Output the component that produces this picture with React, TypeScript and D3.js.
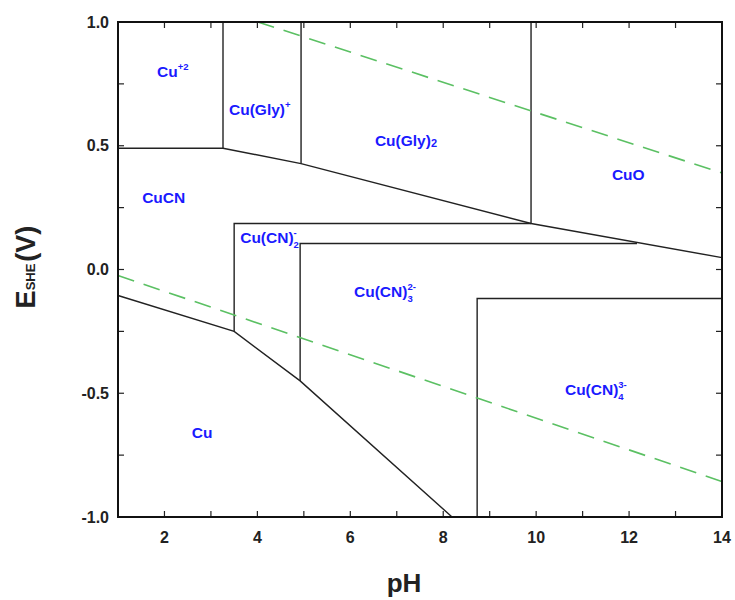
import React from 'react';
import * as d3 from 'd3';

const width = 735;
const height = 600;
const margin = { top: 22, right: 13, bottom: 83, left: 118 };

// stability field boundaries, [pH, E] pairs
const upperBoundary = [[1, 0.49], [3.26, 0.49], [4.94, 0.428], [9.89, 0.186], [14, 0.048]];
const cuLowerBoundary = [[1, -0.105], [3.5, -0.25], [4.92, -0.45], [8.19, -1.0]];
const verticals = [
  [[3.26, 0.49], [3.26, 1.0]],
  [[4.94, 0.428], [4.94, 1.0]],
  [[9.89, 0.186], [9.89, 1.0]],
  [[3.5, -0.25], [3.5, 0.186], [9.89, 0.186]],
  [[4.92, -0.45], [4.92, 0.105], [12.17, 0.105]],
  [[8.73, -1.0], [8.73, -0.117], [14, -0.117]]
];
const waterUpper = [[4.01, 1.0], [14, 0.39]];
const waterLower = [[1, -0.024], [14, -0.857]];

const xTicks = [2, 4, 6, 8, 10, 12, 14];
const xMinor = d3.range(2, 14, 1);
const yTicks = [-1.0, -0.5, 0.0, 0.5, 1.0];
const yMinor = d3.range(-0.75, 1.0, 0.25);

const species = [
  { base: 'Cu', sup: '+2', sub: '', pH: 1.84, E: 0.778 },
  { base: 'Cu(Gly)', sup: '+', sub: '', pH: 3.39, E: 0.624 },
  { base: 'Cu(Gly)', sup: '', sub: '2', pH: 6.53, E: 0.499 },
  { base: 'CuO', sup: '', sub: '', pH: 11.63, E: 0.362 },
  { base: 'CuCN', sup: '', sub: '', pH: 1.52, E: 0.269 },
  { base: 'Cu(CN)', sup: '-', sub: '2', pH: 3.63, E: 0.108 },
  { base: 'Cu(CN)', sup: '2-', sub: '3', pH: 6.08, E: -0.111 },
  { base: 'Cu(CN)', sup: '3-', sub: '4', pH: 10.62, E: -0.507 },
  { base: 'Cu', sup: '', sub: '', pH: 2.59, E: -0.681 }
];

const fmt = (v: number) => (v < 0 ? '-' : '') + Math.abs(v).toFixed(1);

export default function App() {
  const x = d3.scaleLinear().domain([1, 14]).range([margin.left, width - margin.right]);
  const y = d3.scaleLinear().domain([-1, 1]).range([height - margin.bottom, margin.top]);
  const line = d3.line<number[]>().x(d => x(d[0])).y(d => y(d[1]));
  const x0 = x(1), x1 = x(14), y0 = y(-1), y1 = y(1);
  const tick = 6;
  const font = 'Arial, "Liberation Sans", Helvetica, sans-serif';
  const scriptSize = 9.5;
  // rough width of a superscript so the stacked subscript starts under it
  const supWidth = (s: string) => s.split('').reduce((w, c) => w + (c === '-' ? 0.333 : 0.556), 0) * scriptSize;

  return (
    <svg width={width} height={height} style={{ position: 'absolute', left: 0, top: 0 }} fontFamily={font}>
      <rect width={width} height={height} fill="#fff" />

      {/* phase boundaries */}
      <g fill="none" stroke="#222" strokeWidth={1.4}>
        <path d={line(upperBoundary)!} />
        <path d={line(cuLowerBoundary)!} />
        {verticals.map((v, i) => <path key={i} d={line(v)!} />)}
      </g>

      {/* water stability lines */}
      <g fill="none" stroke="#5bc063" strokeWidth={1.6} strokeDasharray="17 10">
        <path d={line(waterUpper)!} />
        <path d={line(waterLower)!} />
      </g>

      {/* ticks */}
      <g stroke="#222" strokeWidth={1.2}>
        {xMinor.map(t => (
          <g key={t}>
            <line x1={x(t)} x2={x(t)} y1={y0} y2={y0 - tick} />
            <line x1={x(t)} x2={x(t)} y1={y1} y2={y1 + tick} />
          </g>
        ))}
        {yMinor.map(t => (
          <g key={t}>
            <line x1={x0} x2={x0 + tick} y1={y(t)} y2={y(t)} />
            <line x1={x1} x2={x1 - tick} y1={y(t)} y2={y(t)} />
          </g>
        ))}
      </g>

      <rect x={x0} y={y1} width={x1 - x0} height={y0 - y1} fill="none" stroke="#111" strokeWidth={2} />

      {/* tick labels */}
      {xTicks.map(t => (
        <text key={t} x={x(t)} y={y0 + 26} textAnchor="middle" fontSize={16} fontWeight="bold" fill="#222">{t}</text>
      ))}
      {yTicks.map(t => (
        <text key={t} x={x0 - 9} y={y(t)} dy="0.35em" textAnchor="end" fontSize={16} fontWeight="bold" fill="#222">
          {fmt(t)}
        </text>
      ))}

      {/* axis titles */}
      <text x={404} y={592} textAnchor="middle" fontSize={26} fontWeight="bold" fill="#222">pH</text>
      <text transform={`translate(35,267) rotate(-90)`} textAnchor="middle" fontSize={27} fontWeight="bold" fill="#222">
        E<tspan fontSize={13}>SHE</tspan><tspan dx={2}>(V)</tspan>
      </text>

      {/* species labels */}
      {species.map((s, i) => (
        <text key={i} x={x(s.pH)} y={y(s.E)} fontSize={15.5} fontWeight="bold" fill="#1a1aff">
          {s.base}
          {s.sub && s.sup ? (
            <>
              <tspan fontSize={scriptSize} dy={-7}>{s.sup}</tspan>
              <tspan fontSize={scriptSize} dx={-supWidth(s.sup)} dy={12}>{s.sub}</tspan>
            </>
          ) : s.sup ? (
            <tspan fontSize={scriptSize} dy={-7}>{s.sup}</tspan>
          ) : s.sub ? (
            <tspan fontSize={11} dy={1}>{s.sub}</tspan>
          ) : null}
        </text>
      ))}
    </svg>
  );
}
